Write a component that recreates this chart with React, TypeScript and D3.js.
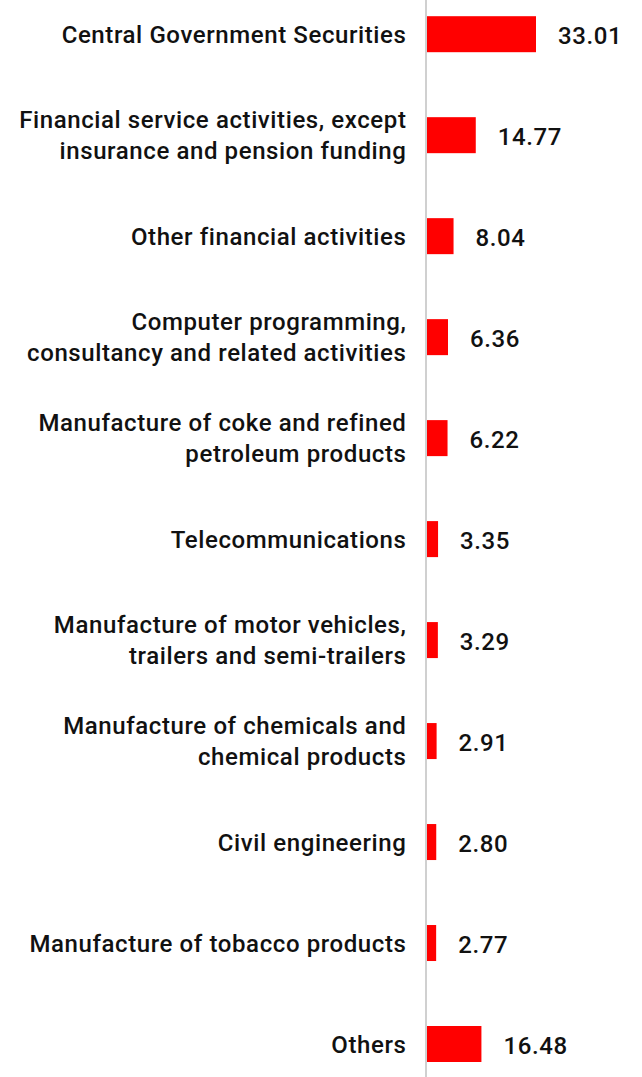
import * as d3 from 'd3'

const categories: string[][] = [
  ['Central Government Securities'],
  ['Financial service activities, except', 'insurance and pension funding'],
  ['Other financial activities'],
  ['Computer programming,', 'consultancy and related activities'],
  ['Manufacture of coke and refined', 'petroleum products'],
  ['Telecommunications'],
  ['Manufacture of motor vehicles,', 'trailers and semi-trailers'],
  ['Manufacture of chemicals and', 'chemical products'],
  ['Civil engineering'],
  ['Manufacture of tobacco products'],
  ['Others'],
]

const values = [33.01, 14.77, 8.04, 6.36, 6.22, 3.35, 3.29, 2.91, 2.8, 2.77, 16.48]

export default function App() {
  const width = 642
  const height = 1077
  const axisX = 426
  const barH = 36
  const font = 'Roboto, "Noto Sans", sans-serif'

  const keys = categories.map((c) => c.join(' '))
  const y = d3.scalePoint<string>().domain(keys).range([34.2, 1044])
  const x = d3.scaleLinear().domain([0, 33.01]).range([427, 536])

  return (
    <div style={{ position: 'absolute', left: 0, top: 0 }}>
      <svg width={width} height={height} style={{ display: 'block', background: '#fff' }}>
        {values.map((v, i) => {
          const cy = y(keys[i]) ?? 0
          const lines = categories[i]
          const base = cy + 8.7 - ((lines.length - 1) * 31) / 2
          return (
            <g key={keys[i]}>
              <rect x={x(0)} y={cy - barH / 2} width={x(v) - x(0)} height={barH} fill="#ff0000" />
              <text
                x={x(v) + 22}
                y={cy + 9.5}
                fontFamily={font}
                fontSize="24"
                fontWeight="500"
                letterSpacing="0.6"
                fill="#111"
              >
                {v.toFixed(2)}
              </text>
              <text
                textAnchor="end"
                fontFamily={font}
                fontSize="24"
                fontWeight="500"
                letterSpacing="0.6"
                fill="#111"
              >
                {lines.map((line, j) => (
                  <tspan key={j} x={406.5} y={base + j * 31}>
                    {line}
                  </tspan>
                ))}
              </text>
            </g>
          )
        })}
        <line x1={axisX} x2={axisX} y1={0} y2={height} stroke="#d0d0d0" strokeWidth="2" />
      </svg>
    </div>
  )
}
